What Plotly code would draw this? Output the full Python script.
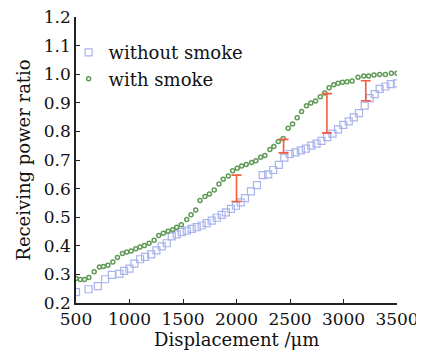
import plotly.graph_objects as go

# without smoke (squares)
x_without = [500, 617, 704, 772, 835, 906, 950, 999, 1046, 1099, 1146, 1202, 1251, 1301,
             1348, 1395, 1441, 1488, 1535, 1581, 1628, 1675, 1721, 1768, 1815, 1861, 1901,
             1948, 1995, 2039, 2079, 2135, 2191, 2244, 2296, 2343, 2396, 2447, 2498, 2550,
             2601, 2648, 2699, 2748, 2794, 2847, 2897, 2949, 2998, 3049, 3096, 3145, 3198,
             3245, 3292, 3338, 3391, 3441, 3500]
y_without = [0.238, 0.248, 0.259, 0.283, 0.298, 0.302, 0.312, 0.320, 0.338, 0.353, 0.361,
             0.370, 0.384, 0.398, 0.409, 0.433, 0.440, 0.448, 0.453, 0.459, 0.465, 0.471,
             0.479, 0.488, 0.498, 0.508, 0.517, 0.529, 0.540, 0.552, 0.567, 0.590, 0.612,
             0.647, 0.650, 0.665, 0.683, 0.708, 0.721, 0.727, 0.734, 0.740, 0.750, 0.757,
             0.767, 0.780, 0.792, 0.807, 0.823, 0.835, 0.849, 0.864, 0.890, 0.916, 0.930,
             0.949, 0.957, 0.965, 0.968]

# with smoke (circles)
x_with = [500, 540, 580, 620, 670, 719, 757, 798, 844, 887, 934, 975, 1015, 1059, 1099,
          1139, 1183, 1230, 1273, 1316, 1360, 1404, 1441, 1484, 1535, 1575, 1619, 1659,
          1705, 1746, 1792, 1836, 1876, 1923, 1964, 2007, 2048, 2091, 2141, 2181, 2225,
          2265, 2312, 2349, 2391, 2436, 2483, 2524, 2567, 2608, 2654, 2694, 2739, 2783,
          2825, 2865, 2909, 2949, 2990, 3033, 3080, 3136, 3189, 3235, 3285, 3338, 3391,
          3447, 3500]
y_with = [0.286, 0.282, 0.282, 0.289, 0.309, 0.326, 0.328, 0.332, 0.343, 0.359, 0.373,
          0.378, 0.382, 0.390, 0.396, 0.401, 0.409, 0.419, 0.436, 0.444, 0.451, 0.456,
          0.465, 0.474, 0.492, 0.509, 0.525, 0.558, 0.572, 0.581, 0.595, 0.616, 0.633,
          0.644, 0.662, 0.671, 0.679, 0.684, 0.691, 0.697, 0.710, 0.716, 0.737, 0.747,
          0.765, 0.775, 0.811, 0.826, 0.848, 0.870, 0.890, 0.899, 0.906, 0.921, 0.934,
          0.953, 0.963, 0.968, 0.972, 0.974, 0.976, 0.989, 0.994, 0.994, 0.997, 0.999,
          0.999, 1.003, 1.003]

# difference bars
err_x = [2000, 2440, 2845, 3208]
err_low = [0.555, 0.725, 0.795, 0.907]
err_high = [0.647, 0.772, 0.932, 0.977]

x_ticks = [500, 1000, 1500, 2000, 2500, 3000, 3500]
y_ticks = [0.2, 0.3, 0.4, 0.5, 0.6, 0.7, 0.8, 0.9, 1.0, 1.1, 1.2]

FONT = "DejaVu Serif"

fig = go.Figure()
fig.add_trace(go.Scatter(
    x=x_without, y=y_without, mode="markers", name="without smoke",
    marker=dict(symbol="square-open", size=7, color="#a9b3ec", line=dict(width=1.2)),
))
fig.add_trace(go.Scatter(
    x=x_with, y=y_with, mode="markers", name="with smoke",
    marker=dict(symbol="circle-open", size=4, color="#5f9a55", line=dict(width=1.5)),
))
mid = [(a + b) / 2 for a, b in zip(err_low, err_high)]
half = [(b - a) / 2 for a, b in zip(err_low, err_high)]
fig.add_trace(go.Scatter(
    x=err_x, y=mid, mode="markers", showlegend=False,
    marker=dict(size=1, color="rgba(0,0,0,0)"),
    error_y=dict(type="data", array=half, symmetric=True, color="#f25c3f",
                 thickness=1.6, width=5),
))

axis_common = dict(
    showline=True, linecolor="#222", linewidth=1.5, ticks="inside", ticklen=4,
    tickcolor="#222", tickwidth=1, showgrid=False, zeroline=False, mirror=False,
    tickfont=dict(family=FONT, size=17, color="#111"), automargin=False,
    ticklabeloverflow="allow",
)
fig.update_xaxes(range=[500, 3500], tickvals=x_ticks, ticktext=[str(v) for v in x_ticks],
                 **axis_common)
fig.update_yaxes(range=[0.2, 1.2], tickvals=y_ticks, ticktext=[f"{v:.1f}" for v in y_ticks],
                 title=dict(text="Receiving power ratio", font=dict(family=FONT, size=18, color="#111"),
                            standoff=9), **axis_common)

fig.add_annotation(text="Displacement /μm", xref="paper", yref="paper", x=0.5, y=-0.128,
                   xanchor="center", yanchor="middle", showarrow=False,
                   font=dict(family=FONT, size=18, color="#111"))

# page body has an 8px margin, so the figure is 8px smaller than the window
fig.update_layout(
    width=416, height=345,
    margin=dict(l=68, r=27, t=9, b=50, autoexpand=False),
    plot_bgcolor="white", paper_bgcolor="white",
    legend=dict(x=-0.023, y=0.94, xanchor="left", yanchor="top",
                font=dict(family=FONT, size=18, color="#111"),
                bgcolor="rgba(0,0,0,0)", tracegroupgap=0, itemwidth=30),
)

fig.write_html("out.html")
